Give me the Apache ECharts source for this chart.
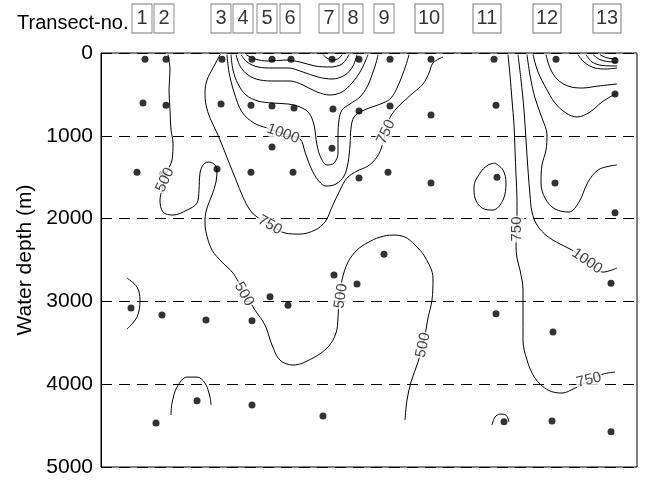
<!DOCTYPE html>
<html>
<head>
<meta charset="utf-8">
<script src="https://cdn.jsdelivr.net/npm/echarts@6/dist/echarts.min.js"></script>
<style>
  html, body { margin: 0; padding: 0; background: #fff; }
  #chart { width: 646px; height: 483px; }
</style>
</head>
<body>
<div id="chart"></div>
<script>
// Section distance (arbitrary along-section units) and water depth (m)
const distanceRange = [0, 536];
const depthTicks = [0, 1000, 2000, 3000, 4000, 5000];

// Transect numbers and their positions along the section
const transectNo = ['1', '2', '3', '4', '5', '6', '7', '8', '9', '10', '11', '12', '13'];
const transectX = [41, 63, 120, 142, 166, 189, 228, 252, 283, 328, 386, 446, 506];

// Sampling stations [distance, depth]
const stationsTop = [[44, 75], [65, 75], [121, 75], [151, 75], [171, 75], [190, 75], [231, 75], [258, 75], [289, 75], [330, 75], [393, 75], [455, 75], [514, 90]];
const stationsUpper = [[42, 605], [65, 630], [120, 615], [150, 630], [171, 640], [193, 665], [232, 675], [258, 700], [289, 640], [330, 750], [395, 630], [514, 495], [171, 1135], [231, 1150]];
const stationsMiddle = [[36, 1440], [62, 1460], [116, 1400], [150, 1440], [192, 1440], [258, 1510], [287, 1440], [330, 1570], [396, 1500], [454, 1570], [514, 1930]];
const stationsDeep = [[30, 3080], [61, 3165], [105, 3225], [151, 3235], [169, 2945], [187, 3045], [233, 2680], [256, 2790], [283, 2430], [395, 3150], [452, 3370], [510, 2780]];
const stationsBottom = [[55, 4470], [96, 4200], [151, 4250], [222, 4385], [403, 4455], [451, 4445], [510, 4575]];

// Isolines [distance, depth]
const iso500West = [[67, 20], [69, 205], [68, 447], [69, 689], [70, 930], [72, 1087], [71, 1293], [66, 1438], [61, 1655], [59, 1776], [62, 1921], [72, 1957], [86, 1897], [96, 1812], [98, 1655], [99, 1450], [102, 1353], [107, 1317], [113, 1341], [116, 1413], [115, 1558], [111, 1715], [106, 1872], [104, 2017], [105, 2162], [111, 2380], [121, 2525], [132, 2658], [142, 2863], [154, 3105], [164, 3286], [171, 3527], [179, 3709], [192, 3769], [212, 3684], [227, 3551], [235, 3382], [237, 3201], [238, 2984], [241, 2742], [247, 2525], [256, 2380], [266, 2295], [279, 2223], [292, 2199], [304, 2223], [314, 2319], [324, 2464], [332, 2718], [331, 2984], [327, 3201], [323, 3467], [317, 3733], [310, 3974], [306, 4192], [304, 4433]];
const iso750Central = [[119, 20], [112, 181], [106, 326], [104, 471], [105, 628], [109, 785], [117, 991], [127, 1293], [135, 1534], [142, 1740], [149, 1897], [156, 1981], [171, 2090], [184, 2174], [199, 2187], [214, 2138], [224, 2041], [231, 1860], [239, 1655], [246, 1510], [256, 1425], [267, 1365], [276, 1256], [281, 1123], [288, 809], [294, 689], [302, 592], [312, 483], [322, 374], [328, 242], [332, 121], [342, 48]];
const iso1000Central = [[126, 20], [128, 230], [133, 471], [141, 713], [153, 846], [166, 906], [182, 975], [199, 1039], [204, 1196], [210, 1389], [217, 1534], [225, 1607], [235, 1582], [243, 1486], [247, 1329], [249, 1111], [250, 906], [253, 773], [261, 701], [271, 652], [282, 604], [290, 544], [296, 423], [301, 278], [305, 145], [308, 20]];
const iso1250Central = [[130, 20], [132, 205], [137, 374], [145, 507], [157, 580], [171, 604], [187, 616], [199, 652], [208, 725], [213, 870], [216, 1111], [220, 1268], [226, 1353], [233, 1329], [237, 1208], [237, 991], [238, 809], [241, 689], [249, 616], [259, 531], [266, 411], [271, 266], [275, 121], [277, 20]];
const iso1500Central = [[135, 20], [139, 157], [147, 266], [159, 326], [174, 338], [189, 338], [202, 387], [216, 471], [229, 507], [241, 471], [251, 362], [259, 230], [264, 109], [267, 20]];
const iso1750Central = [[140, 20], [146, 109], [157, 169], [171, 181], [187, 181], [202, 230], [217, 290], [231, 314], [244, 266], [252, 157], [256, 20]];
const iso2000Central = [[145, 20], [154, 72], [167, 97], [184, 85], [199, 109], [214, 157], [229, 169], [241, 133], [248, 20]];
const iso2250Central = [[222, 20], [226, 62], [232, 85], [238, 62], [241, 20]];
const iso750East = [[407, 20], [409, 266], [411, 568], [413, 870], [414, 1172], [415, 1474], [416, 1776], [416, 1957], [416, 2130], [415, 2319], [416, 2476], [419, 2621], [422, 2863], [422, 3165], [422, 3467], [426, 3709], [434, 3926], [447, 4071], [461, 4107], [474, 4047], [488, 3960], [502, 3878], [514, 3854]];
const iso1000East = [[417, 20], [420, 326], [423, 689], [425, 1051], [427, 1413], [429, 1715], [431, 1921], [436, 2078], [446, 2211], [459, 2307], [471, 2380], [487, 2510], [502, 2646], [516, 2597]];
const iso1250East = [[426, 20], [429, 266], [434, 544], [441, 785], [446, 991], [445, 1172], [441, 1353], [440, 1570], [444, 1752], [454, 1884], [468, 1921], [478, 1800], [487, 1558], [497, 1413], [509, 1365], [516, 1353]];
const iso1500East = [[432, 20], [437, 230], [445, 423], [454, 604], [465, 725], [476, 773], [489, 713], [501, 592], [516, 483]];
const iso1750East = [[445, 20], [449, 181], [456, 314], [467, 399], [481, 423], [497, 399], [516, 374]];
const iso2000East = [[477, 20], [483, 109], [494, 181], [505, 193], [516, 181]];
const iso2250East = [[485, 20], [491, 109], [501, 150], [516, 157]];
const iso2500East = [[492, 20], [499, 80], [508, 105], [516, 109]];
const iso2750East = [[499, 20], [505, 55], [511, 68], [516, 72]];
const isoRing = [[394, 1329], [402, 1413], [405, 1570], [402, 1776], [392, 1897], [381, 1872], [374, 1752], [373, 1619], [379, 1450], [387, 1353], [394, 1329]];
const isoArcWest = [[26, 2718], [36, 2827], [39, 2984], [36, 3189], [26, 3334]];
const isoArcDeep = [[70, 4373], [71, 4228], [76, 4035], [86, 3914], [96, 3914], [104, 3986], [109, 4156], [110, 4252]];
const isoArcEast = [[391, 4494], [394, 4397], [399, 4361], [405, 4373], [408, 4457]];

// Isoline labels
const labelText = ['500', '750', '1000', '750', '500', '500', '500', '750', '1000', '750'];
const labelX = [64, 169, 182, 285, 143, 240, 322, 416, 486, 488];
const labelDepth = [1534, 2078, 975, 954, 2911, 2935, 3527, 2126, 2513, 3950];
const labelRotate = [65, -30, -20, 65, -60, 82, 78, 90, -35, 14];

const isolines = [
  iso500West, iso750Central, iso1000Central, iso1250Central, iso1500Central,
  iso1750Central, iso2000Central, iso2250Central, iso750East, iso1000East,
  iso1250East, iso1500East, iso1750East, iso2000East, iso2250East,
  iso2500East, iso2750East, isoRing, isoArcWest, isoArcDeep, isoArcEast
];
const stations = [].concat(stationsTop, stationsUpper, stationsMiddle, stationsDeep, stationsBottom);

const font = 'Liberation Sans, Arial, Helvetica, sans-serif';
const chart = echarts.init(document.getElementById('chart'), null, { renderer: 'canvas' });

const series = isolines.map(function (pts) {
  return {
    type: 'line',
    xAxisIndex: 0,
    yAxisIndex: 0,
    data: pts,
    smooth: 0.35,
    showSymbol: false,
    symbol: 'none',
    silent: true,
    lineStyle: { color: '#000', width: 1 },
    z: 2
  };
});

series.push({
  type: 'scatter',
  xAxisIndex: 0,
  yAxisIndex: 0,
  data: stations,
  symbol: 'circle',
  symbolSize: 7,
  itemStyle: { color: '#000' },
  silent: true,
  z: 5
});

series.push({
  type: 'scatter',
  xAxisIndex: 0,
  yAxisIndex: 0,
  symbolSize: 1,
  itemStyle: { color: 'rgba(0,0,0,0)' },
  silent: true,
  z: 8,
  data: labelText.map(function (t, i) {
    return {
      value: [labelX[i], labelDepth[i]],
      name: t,
      label: { rotate: labelRotate[i] }
    };
  }),
  label: {
    show: true,
    position: 'inside',
    formatter: function (p) { return p.name; },
    fontFamily: font,
    fontSize: 15,
    color: '#111',
    backgroundColor: '#fff',
    padding: [0, 1]
  }
});

series.push({
  type: 'scatter',
  xAxisIndex: 1,
  yAxisIndex: 1,
  silent: true,
  symbol: 'rect',
  data: transectNo.map(function (n, i) {
    return {
      value: [transectX[i], 0.5],
      name: n,
      symbolSize: n.length > 1 ? [28, 29] : [20, 29]
    };
  }),
  itemStyle: { color: '#fff', borderColor: '#555', borderWidth: 1 },
  label: {
    show: true,
    position: 'inside',
    formatter: function (p) { return p.name; },
    fontFamily: font,
    fontSize: 20,
    color: '#000'
  }
});

chart.setOption({
  animation: false,
  backgroundColor: '#fff',
  title: {
    text: 'Transect-no.',
    left: 12,
    top: 8,
    textStyle: { fontFamily: font, fontSize: 20, fontWeight: 'normal', color: '#000' }
  },
  grid: [
    { left: 101, right: 9, top: 53, bottom: 16, show: true, borderColor: '#000', borderWidth: 1, backgroundColor: 'transparent' },
    { left: 101, right: 9, top: 4, height: 29, show: false }
  ],
  xAxis: [
    { type: 'value', gridIndex: 0, min: distanceRange[0], max: distanceRange[1], show: false },
    { type: 'value', gridIndex: 1, min: distanceRange[0], max: distanceRange[1], show: false }
  ],
  yAxis: [
    {
      type: 'value',
      gridIndex: 0,
      inverse: true,
      min: depthTicks[0],
      max: depthTicks[depthTicks.length - 1],
      interval: depthTicks[1] - depthTicks[0],
      name: 'Water depth (m)',
      nameLocation: 'middle',
      nameGap: 60,
      nameTextStyle: { fontFamily: font, fontSize: 21, color: '#000' },
      axisLine: { show: true, lineStyle: { color: '#000', width: 1 } },
      axisTick: { show: false },
      axisLabel: {
        fontFamily: font, fontSize: 21, color: '#000', margin: 8,
        formatter: function (v) { return String(v); }
      },
      splitLine: { show: true, lineStyle: { color: '#000', width: 1, type: [11, 7] } }
    },
    { type: 'value', gridIndex: 1, min: 0, max: 1, show: false }
  ],
  series: series
});
</script>
</body>
</html>
